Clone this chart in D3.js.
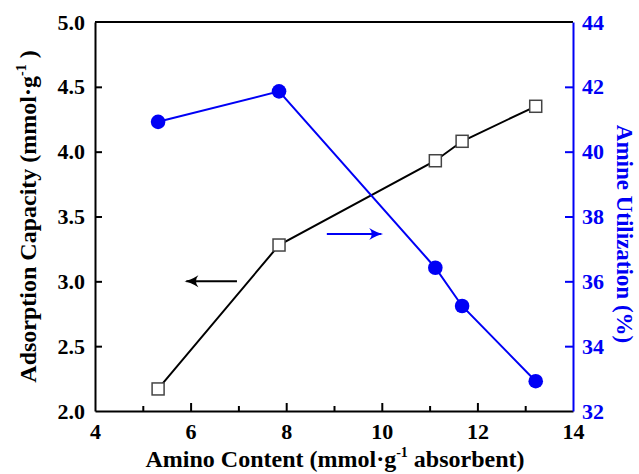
<!DOCTYPE html>
<html>
<head>
<meta charset="utf-8">
<script src="https://cdn.jsdelivr.net/npm/d3@7"></script>
<style>
  body { margin: 0; background: #fff; }
</style>
</head>
<body>
<svg id="chart"></svg>
<script>
const width = 639, height = 474;
const margin = { left: 95, right: 66, top: 22, bottom: 63 };
const font = '"Liberation Serif", "Times New Roman", serif';

// data
const aminoContent = [5.32, 7.85, 11.12, 11.68, 13.22];
const adsorption = [2.17, 3.28, 3.93, 4.08, 4.35];
const utilization = [40.92, 41.86, 36.42, 35.24, 32.92];

const xTicks = [4, 6, 8, 10, 12, 14];
const xMinor = [5, 7, 9, 11, 13];
const leftTicks = [2.0, 2.5, 3.0, 3.5, 4.0, 4.5, 5.0];
const rightTicks = [32, 34, 36, 38, 40, 42, 44];

const blue = "#0000f5";
const innerW = width - margin.left - margin.right;
const innerH = height - margin.top - margin.bottom;

const svg = d3.select('#chart')
    .attr("width", width)
    .attr("height", height);

const g = svg.append("g")
    .attr("transform", `translate(${margin.left},${margin.top})`);

const xScale = d3.scaleLinear().domain([4, 14]).range([0, innerW]);
const yLeft = d3.scaleLinear().domain([2, 5]).range([innerH, 0]);
const yRight = d3.scaleLinear().domain([32, 44]).range([innerH, 0]);

// top frame line
g.append("line")
  .attr("x1", 0).attr("x2", innerW)
  .attr("y1", 0).attr("y2", 0)
  .attr("stroke", "black").attr("stroke-width", 2);

// bottom axis, ticks pointing inward
const xAxisG = g.append("g")
  .attr("transform", `translate(0,${innerH})`)
  .call(d3.axisBottom(xScale).tickValues(xTicks).tickSize(-8).tickPadding(12).tickSizeOuter(0).tickFormat(d3.format("d")));
const xMinorG = g.append("g")
  .attr("transform", `translate(0,${innerH})`)
  .call(d3.axisBottom(xScale).tickValues(xMinor).tickSize(-5).tickSizeOuter(0).tickFormat(""));
xMinorG.select(".domain").remove();

// left axis
const yLeftG = g.append("g")
  .call(d3.axisLeft(yLeft).tickValues(leftTicks).tickSize(-7).tickPadding(10).tickSizeOuter(0).tickFormat(d3.format(".1f")));

// right axis
const yRightG = g.append("g")
  .attr("transform", `translate(${innerW},0)`)
  .call(d3.axisRight(yRight).tickValues(rightTicks).tickSize(-8).tickPadding(9).tickSizeOuter(0).tickFormat(d3.format("d")));

[xAxisG, xMinorG, yLeftG].forEach(a => {
  a.selectAll(".domain, line").attr("stroke", "black").attr("stroke-width", 2);
  a.selectAll("text").attr("fill", "black");
});
yRightG.selectAll(".domain, line").attr("stroke", blue).attr("stroke-width", 2);
yRightG.selectAll("text").attr("fill", blue);
xAxisG.selectAll(".tick").filter(d => d === 4 || d === 14).select("line").remove();
yLeftG.selectAll(".tick").filter(d => d === 2 || d === 5).select("line").remove();
yRightG.selectAll(".tick").filter(d => d === 32 || d === 44).select("line").remove();

// axis titles
const xTitle = svg.append("text")
  .attr("x", margin.left + innerW / 2 + 1)
  .attr("y", 467)
  .attr("text-anchor", "middle")
  .style("font-size", "24px");
xTitle.append("tspan").text("Amino Content (mmol·g");
xTitle.append("tspan").text("-1").attr("dy", -10).style("font-size", "14px");
xTitle.append("tspan").text(" absorbent)").attr("dy", 10);

const yTitle = svg.append("text")
  .attr("transform", `translate(36,${margin.top + innerH / 2}) rotate(-90)`)
  .attr("text-anchor", "middle")
  .style("font-size", "24px");
yTitle.append("tspan").text("Adsorption Capacity (mmol·g");
yTitle.append("tspan").text("-1").attr("dy", -10).style("font-size", "14px");
yTitle.append("tspan").text(" )").attr("dy", 10);

const rTitle = svg.append("text")
  .attr("transform", `translate(617,234) rotate(90)`)
  .attr("text-anchor", "middle")
  .attr("fill", blue)
  .text("Amine Utilization (%)");

// series
const pts = aminoContent.map((x, i) => ({ x: x, a: adsorption[i], u: utilization[i] }));

g.append("path")
  .datum(pts)
  .attr("fill", "none")
  .attr("stroke", "black")
  .attr("stroke-width", 2)
  .attr("d", d3.line().x(d => xScale(d.x)).y(d => yLeft(d.a)));

g.append("path")
  .datum(pts)
  .attr("fill", "none")
  .attr("stroke", blue)
  .attr("stroke-width", 2)
  .attr("d", d3.line().x(d => xScale(d.x)).y(d => yRight(d.u)));

g.selectAll("rect.sq")
  .data(pts)
  .enter()
  .append("rect")
  .attr("class", "sq")
  .attr("x", d => xScale(d.x) - 6)
  .attr("y", d => yLeft(d.a) - 6)
  .attr("width", 12).attr("height", 12)
  .attr("fill", "white")
  .attr("stroke", "#444")
  .attr("stroke-width", 1.5);

g.selectAll("circle")
  .data(pts)
  .enter()
  .append("circle")
  .attr("cx", d => xScale(d.x))
  .attr("cy", d => yRight(d.u))
  .attr("r", 7.3)
  .attr("fill", blue);

// arrows pointing to the matching axis
function arrow(x1, x2, y, color) {
  const dir = Math.sign(x2 - x1);
  g.append("line")
    .attr("x1", x1).attr("x2", x2 - dir * 2)
    .attr("y1", y).attr("y2", y)
    .attr("stroke", color).attr("stroke-width", 2);
  g.append("path")
    .attr("d", `M${x2 - dir * 14},${y - 6} Q${x2 - dir * 6},${y - 1} ${x2},${y} Q${x2 - dir * 6},${y + 1} ${x2 - dir * 14},${y + 6} Q${x2 - dir * 9},${y} ${x2 - dir * 14},${y - 6}Z`)
    .attr("fill", color);
}
arrow(xScale(6.97), xScale(5.87), yLeft(3.0), "black");
arrow(xScale(8.85), xScale(10.03), yRight(37.46), blue);

// serif bold text everywhere, tick labels at 22px
svg.selectAll("text").style("font-family", font).style("font-weight", "bold");
svg.selectAll(".tick text").style("font-size", "22px");
rTitle.style("font-size", "23px");
</script>
</body>
</html>
